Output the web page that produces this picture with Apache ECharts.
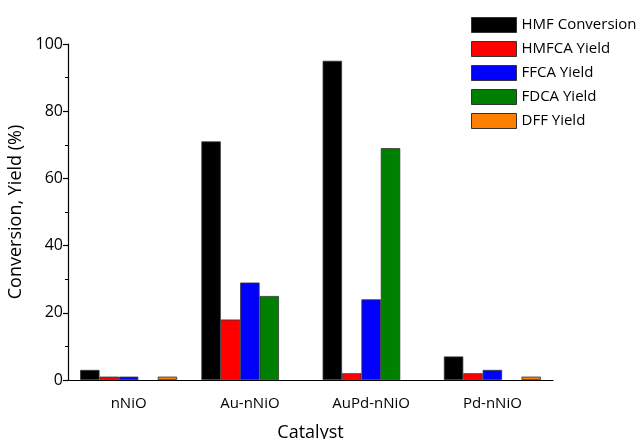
<!DOCTYPE html>
<html><head><meta charset="utf-8">
<script src="https://cdn.jsdelivr.net/npm/echarts@6/dist/echarts.min.js"></script>
<style>html,body{margin:0;padding:0;background:#fff}#c{width:644px;height:439px}</style>
</head><body><div id="c"></div>
<script>
const categories = ['nNiO', 'Au-nNiO', 'AuPd-nNiO', 'Pd-nNiO'];
const seriesNames = ['HMF Conversion', 'HMFCA Yield', 'FFCA Yield', 'FDCA Yield', 'DFF Yield'];
const hmfConversion = [3, 71, 95, 7];
const hmfcaYield = [1, 18, 2, 2];
const ffcaYield = [1, 29, 24, 3];
const fdcaYield = [0, 25, 69, 0];
const dffYield = [1, 0, 0, 1];
const colors = ['#000000', '#ff0000', '#0000ff', '#008000', '#ff8000'];
const yTicks = [0, 20, 40, 60, 80, 100];

const values = [hmfConversion, hmfcaYield, ffcaYield, fdcaYield, dffYield];
const font = 'Open Sans';
const chart = echarts.init(document.getElementById('c'));
chart.setOption({
  animation: false,
  textStyle: { fontFamily: font },
  legend: {
    orient: 'vertical', left: 466, top: 12,
    itemWidth: 45, itemHeight: 15, itemGap: 8,
    icon: 'rect',
    textStyle: { fontSize: 15, color: '#000', fontFamily: font },
    data: seriesNames,
    itemStyle: { borderColor: '#333', borderWidth: 1 }
  },
  grid: { left: 68, right: 91, top: 44, bottom: 59, containLabel: false, outerBoundsMode: 'none' },
  xAxis: [{
    type: 'category', data: categories,
    name: 'Catalyst', nameLocation: 'middle', nameGap: 44,
    nameTextStyle: { fontSize: 18, color: '#000', fontFamily: font },
    axisLine: { lineStyle: { color: '#000', width: 1.2 } },
    axisTick: { length: 4, lineStyle: { color: '#000', width: 1.2 } },
    axisLabel: { fontSize: 15, color: '#000', margin: 16, fontFamily: font }
  }, {
    type: 'category', data: categories, position: 'bottom',
    axisLine: { show: false },
    axisTick: { alignWithLabel: true, length: 8, lineStyle: { color: '#000', width: 1.2 } },
    axisLabel: { show: false }
  }],
  yAxis: {
    type: 'value', min: 0, max: 100, interval: 20,
    name: 'Conversion, Yield (%)', nameLocation: 'middle', nameGap: 42,
    nameTextStyle: { fontSize: 18, color: '#000', fontFamily: font },
    axisLine: { show: true, lineStyle: { color: '#000', width: 1.2 } },
    axisTick: { show: true, length: 5, lineStyle: { color: '#000', width: 1.2 } },
    minorTick: { show: true, splitNumber: 2, length: 3, lineStyle: { color: '#000', width: 1 } },
    splitLine: { show: false },
    axisLabel: { fontSize: 16, color: '#000', margin: 5, fontFamily: font,
      formatter: v => yTicks.includes(v) ? String(v) : '' }
  },
  series: seriesNames.map((n, i) => ({
    name: n, type: 'bar', xAxisIndex: 0,
    data: values[i].map(v => v === 0 ? '-' : v),
    barGap: '0%', barCategoryGap: '20%',
    itemStyle: { color: colors[i], borderColor: '#333', borderWidth: 0.8 }
  }))
});
</script></body></html>
